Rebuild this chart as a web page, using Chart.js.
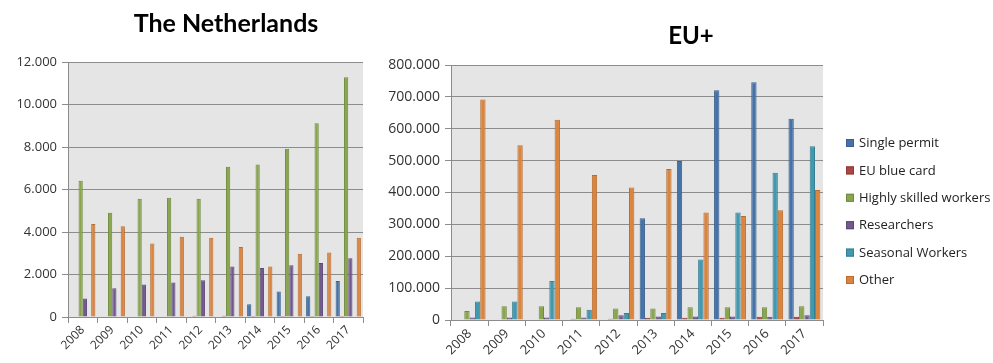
<!DOCTYPE html>
<html>
<head>
<meta charset="utf-8">
<script src="https://cdn.jsdelivr.net/npm/chart.js@4/dist/chart.umd.min.js"></script>
<style>
  html, body { margin: 0; padding: 0; background: #ffffff; }
  body { width: 993px; height: 363px; position: relative; overflow: hidden; }
  .box { position: absolute; top: 0; height: 363px; }
  #leftBox { left: 0; width: 364px; }
  #rightBox { left: 370px; width: 623px; }
</style>
</head>
<body>
<div class="box" id="leftBox"><canvas id="nl"></canvas></div>
<div class="box" id="rightBox"><canvas id="eu"></canvas></div>
<script>
// ---- data ----
const years = ['2008','2009','2010','2011','2012','2013','2014','2015','2016','2017'];
const seriesNames = ['Single permit','EU blue card','Highly skilled workers','Researchers','Seasonal Workers','Other'];

const nlSinglePermit = [0, 0, 0, 0, 0, 0, 600, 1200, 980, 1690];
const nlBlueCard     = [0, 0, 0, 0, 60, 60, 50, 50, 50, 50];
const nlHighlySkilled= [6410, 4910, 5560, 5610, 5560, 7070, 7180, 7920, 9120, 11280];
const nlResearchers  = [870, 1350, 1530, 1620, 1730, 2380, 2310, 2430, 2540, 2760];
const nlSeasonal     = [0, 0, 0, 0, 0, 0, 0, 0, 0, 0];
const nlOther        = [4380, 4270, 3460, 3780, 3730, 3290, 2380, 2980, 3040, 3730];

const euSinglePermit = [0, 0, 0, 0, 0, 319000, 499000, 721000, 746000, 631000];
const euBlueCard     = [0, 0, 0, 4000, 4000, 7000, 7000, 7000, 10000, 10000];
const euHighlySkilled= [28000, 43000, 43000, 40000, 36000, 36000, 40000, 40000, 40000, 43000];
const euResearchers  = [8000, 8000, 8000, 8000, 15000, 11000, 11000, 11000, 10000, 15000];
const euSeasonal     = [58000, 58000, 122000, 32000, 22000, 22000, 190000, 337000, 462000, 545000];
const euOther        = [692000, 548000, 628000, 455000, 416000, 474000, 337000, 326000, 344000, 408000];

const nlTicksMax = 12000, nlTicksStep = 2000;
const euTicksMax = 800000, euTicksStep = 100000;

// ---- styles ----
const fills   = ['#4572A7','#AA4643','#89A54E','#71588F','#4198AF','#DB843D'];
const borders = ['#3a6190','#8e3a38','#6f8a3c','#5c4775','#357f93','#b86c2f'];
const gridColor = '#8c8c8c';
const tickColor = '#333333';

function fmt(v) { return String(v).replace(/\B(?=(\d{3})+(?!\d))/g, '.'); }

function makeDatasets(arrs) {
  return arrs.map((d, i) => ({
    label: seriesNames[i], data: d,
    backgroundColor: fills[i], borderColor: borders[i], borderWidth: 1,
    categoryPercentage: 6/7, barPercentage: 1.0
  }));
}

const bgPlugin = {
  id: 'plotBg',
  beforeDraw(chart) {
    const a = chart.chartArea, c = chart.ctx;
    c.save(); c.fillStyle = '#e5e5e5';
    c.fillRect(a.left, a.top, a.right - a.left, a.bottom - a.top);
    c.restore();
  }
};
const titlePlugin = {
  id: 'bigTitle',
  afterDraw(chart, args, opts) {
    const c = chart.ctx;
    c.save();
    c.font = 'bold ' + opts.size + 'px Lato, "Liberation Sans", sans-serif';
    c.fillStyle = '#000'; c.textAlign = 'center'; c.textBaseline = 'alphabetic';
    c.fillText(opts.text, opts.x, opts.y);
    c.restore();
  }
};
const legendPlugin = {
  id: 'sideLegend',
  afterDraw(chart, args, opts) {
    if (!opts.show) return;
    const c = chart.ctx;
    c.save();
    c.font = opts.size + 'px "Open Sans", sans-serif';
    c.textBaseline = 'middle'; c.textAlign = 'left';
    chart.data.datasets.forEach((ds, i) => {
      const y = opts.y0 + i * opts.gap;
      c.fillStyle = ds.backgroundColor; c.fillRect(opts.x, y - 4, 8, 8);
      c.strokeStyle = ds.borderColor; c.lineWidth = 1; c.strokeRect(opts.x + 0.5, y - 3.5, 7, 7);
      c.fillStyle = '#222'; c.fillText(ds.label, opts.x + 13, y + 0.5);
    });
    c.restore();
  }
};

function makeChart(id, arrs, max, step, cfg) {
  return new Chart(document.getElementById(id), {
    type: 'bar',
    data: { labels: years, datasets: makeDatasets(arrs) },
    plugins: [bgPlugin, titlePlugin, legendPlugin],
    options: {
      responsive: true, maintainAspectRatio: false, animation: false,
      layout: { padding: { top: cfg.top, right: cfg.right, left: 0, bottom: 0 } },
      plugins: {
        legend: { display: false }, tooltip: { enabled: false },
        bigTitle: cfg.title,
        sideLegend: cfg.legend
      },
      scales: {
        x: {
          grid: { display: true, drawOnChartArea: false, tickLength: 6, color: gridColor, offset: true },
          border: { display: true, color: gridColor },
          ticks: { color: tickColor, font: { family: '"Open Sans", sans-serif', size: cfg.xFont }, minRotation: 45, maxRotation: 45, padding: 0, autoSkip: false },
          afterFit(s) { s.height = cfg.xHeight; }
        },
        y: {
          min: 0, max: max,
          grid: { color: gridColor, lineWidth: 1, tickLength: 6 },
          border: { display: true, color: gridColor },
          ticks: { stepSize: step, color: tickColor, padding: 5, font: { family: '"Open Sans", sans-serif', size: cfg.yFont }, callback: v => fmt(v) },
          afterFit(s) { s.width = cfg.yWidth; }
        }
      }
    }
  });
}

makeChart('nl', [nlSinglePermit, nlBlueCard, nlHighlySkilled, nlResearchers, nlSeasonal, nlOther], nlTicksMax, nlTicksStep, {
  top: 62, right: 1, yWidth: 68, xHeight: 46, xFont: 12, yFont: 13,
  title: { text: 'The Netherlands', x: 226, y: 32, size: 25 },
  legend: { show: false }
});
makeChart('eu', [euSinglePermit, euBlueCard, euHighlySkilled, euResearchers, euSeasonal, euOther], euTicksMax, euTicksStep, {
  top: 65, right: 170, yWidth: 81, xHeight: 43, xFont: 13, yFont: 14,
  title: { text: 'EU+', x: 321, y: 44, size: 24 },
  legend: { show: true, x: 476, y0: 143, gap: 27.4, size: 13 }
});
</script>
</body>
</html>
